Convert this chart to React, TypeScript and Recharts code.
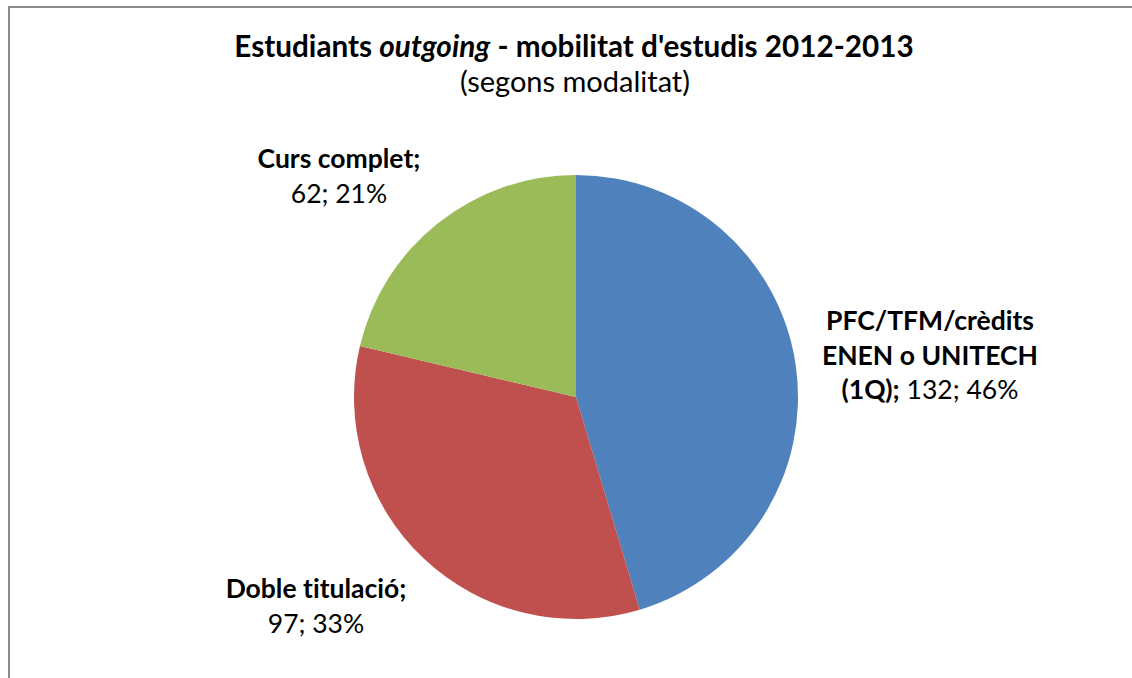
import { PieChart, Pie, Cell } from "recharts";

const categories = ["PFC/TFM/crèdits ENEN o UNITECH (1Q)", "Doble titulació", "Curs complet"];
const values = [132, 97, 62];
const percents = [46, 33, 21];
const colors = ["#4F81BD", "#C0504D", "#9BBB59"];

// category names as they wrap in the labels
const labelLines = [
  ["PFC/TFM/crèdits", "ENEN o UNITECH", "(1Q)"],
  ["Doble titulació"],
  ["Curs complet"],
];

const data = categories.map((name, i) => ({ name, value: values[i] }));

// label anchor (centre x, first baseline) relative to the pie centre
const labelOffset = [
  [354, -67],
  [-260, 201],
  [-237, -229],
];

const FONT = "Lato, 'Open Sans', sans-serif";
const LINE = 34.5;
const noLig = { fontVariantLigatures: "none" } as const;

function renderLabel(props: any) {
  const { cx, cy, index } = props;
  const [ox, oy] = labelOffset[index];
  const x = cx + ox;
  const y = cy + oy;
  const lines = labelLines[index];
  const valueText = `${values[index]}; ${percents[index]}%`;
  const inline = lines.length > 1;
  return (
    <text x={x} y={y} textAnchor="middle" fontFamily={FONT} fontSize={26.5} fill="#000" style={noLig}>
      {lines.map((l, i) => (
        <tspan key={i} x={x} dy={i === 0 ? 0 : LINE} fontWeight={700}>
          {l + (i === lines.length - 1 ? ";" : "")}
          {inline && i === lines.length - 1 ? <tspan fontWeight={400}>{" " + valueText}</tspan> : null}
        </tspan>
      ))}
      {!inline ? (
        <tspan x={x} dy={LINE} fontWeight={400}>
          {valueText}
        </tspan>
      ) : null}
    </text>
  );
}

export default function App() {
  return (
    <div style={{ position: "absolute", left: 0, top: 0, width: 1132, height: 678, overflow: "hidden", background: "#fff" }}>
      <div
        style={{
          position: "absolute",
          left: 8,
          top: 6,
          width: 1200,
          height: 800,
          border: "2px solid #8c8c8c",
        }}
      />
      <svg width={1132} height={120} style={{ position: "absolute", left: 0, top: 0 }}>
        <text x={574} y={57} textAnchor="middle" fontFamily={FONT} fontSize={29.7} fontWeight={700} fill="#000" style={noLig}>
          Estudiants <tspan fontStyle="italic">outgoing</tspan> - mobilitat d'estudis 2012-2013
        </text>
        <text x={575} y={92} textAnchor="middle" fontFamily={FONT} fontSize={29} fill="#000" style={noLig}>
          (segons modalitat)
        </text>
      </svg>
      <div style={{ position: "absolute", left: 0, top: 0 }}>
        <PieChart width={1132} height={678}>
          <Pie
            data={data}
            dataKey="value"
            nameKey="name"
            cx={571}
            cy={392}
            outerRadius={222}
            startAngle={90}
            endAngle={-270}
            stroke="none"
            label={renderLabel}
            labelLine={false}
            isAnimationActive={false}
          >
            {data.map((d, i) => (
              <Cell key={d.name} fill={colors[i]} />
            ))}
          </Pie>
        </PieChart>
      </div>
    </div>
  );
}
